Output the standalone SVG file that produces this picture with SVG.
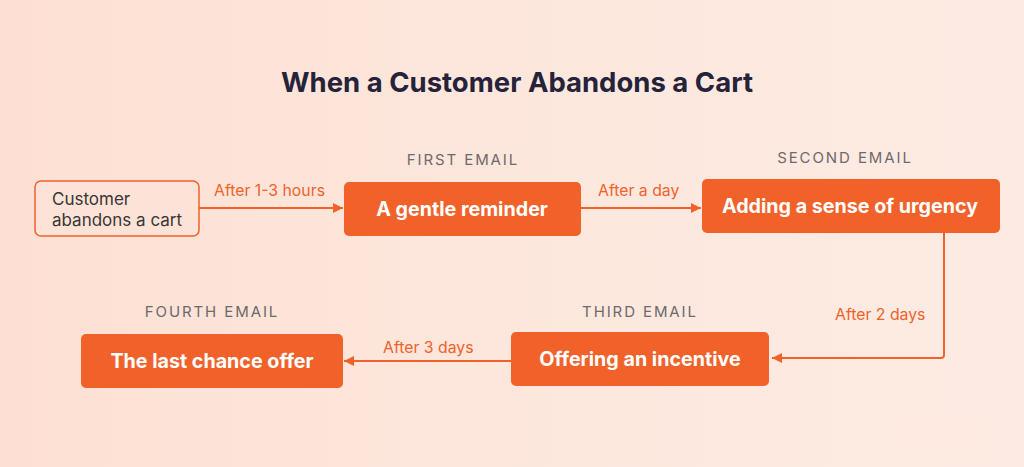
<svg xmlns="http://www.w3.org/2000/svg" width="1024" height="467" viewBox="0 0 1024 467">
<defs>
<linearGradient id="bg" x1="0" y1="0" x2="1" y2="0">
<stop offset="0" stop-color="#fde0d3"/>
<stop offset="0.5" stop-color="#fde7dd"/>
<stop offset="1" stop-color="#fdebe3"/>
</linearGradient>
<marker id="ah" viewBox="0 0 10 10" refX="10" refY="5" markerWidth="10" markerHeight="10" markerUnits="userSpaceOnUse" orient="auto">
<path d="M0,0 L10,5 L0,10 z" fill="#f0622a"/>
</marker>
<style>
.box{fill:#f0622a;}
.btxt{font-family:Inter,"Liberation Sans",sans-serif;font-weight:700;font-size:19.7px;fill:#ffffff;text-anchor:middle;}
.cap{font-family:Inter,"Liberation Sans",sans-serif;font-size:15px;fill:#6e6a6a;letter-spacing:1.9px;text-anchor:middle;}
.lbl{font-family:Inter,"Liberation Sans",sans-serif;font-size:15.8px;fill:#f0622a;}
.conn{stroke:#f0622a;stroke-width:2;fill:none;}
</style>
</defs>
<rect width="1024" height="467" fill="url(#bg)"/>
<rect x="886" y="416" width="102" height="37" fill="#ffeae1"/>
<text x="517" y="92" text-anchor="middle" font-family="Inter,'Liberation Sans',sans-serif" font-weight="700" font-size="27.5" fill="#25233a">When a Customer Abandons a Cart</text>

<g id="connectors">
<line class="conn" x1="199" y1="208" x2="343" y2="208" marker-end="url(#ah)"/>
<line class="conn" x1="581" y1="208" x2="701" y2="208" marker-end="url(#ah)"/>
<path class="conn" d="M944,233 V355 Q944,358 941,358 H772" marker-end="url(#ah)"/>
<line class="conn" x1="511" y1="361" x2="344" y2="361" marker-end="url(#ah)"/>
<text class="lbl" x="214" y="196">After 1-3 hours</text>
<text class="lbl" x="598" y="196">After a day</text>
<text class="lbl" x="835" y="320">After 2 days</text>
<text class="lbl" x="383" y="353">After 3 days</text>
</g>

<g id="start">
<rect x="35" y="181" width="164" height="55" rx="6" fill="#fde3d7" stroke="#f0622a" stroke-width="1.5"/>
<text x="52" y="205" font-family="Inter,'Liberation Sans',sans-serif" font-size="17" fill="#3a3535">Customer</text>
<text x="52" y="226" font-family="Inter,'Liberation Sans',sans-serif" font-size="17" fill="#3a3535">abandons a cart</text>
</g>

<g id="first">
<text class="cap" x="463" y="165">FIRST EMAIL</text>
<rect class="box" x="344" y="182" width="237" height="54" rx="5"/>
<text class="btxt" x="462" y="216">A gentle reminder</text>
</g>

<g id="second">
<text class="cap" x="845" y="163">SECOND EMAIL</text>
<rect class="box" x="702" y="179" width="298" height="54" rx="5"/>
<text class="btxt" x="850" y="213">Adding a sense of urgency</text>
</g>

<g id="third">
<text class="cap" x="640" y="317">THIRD EMAIL</text>
<rect class="box" x="511" y="332" width="258" height="54" rx="5"/>
<text class="btxt" x="640" y="366">Offering an incentive</text>
</g>

<g id="fourth">
<text class="cap" x="212" y="317">FOURTH EMAIL</text>
<rect class="box" x="81" y="334" width="262" height="54" rx="5"/>
<text class="btxt" x="212" y="368">The last chance offer</text>
</g>
</svg>
